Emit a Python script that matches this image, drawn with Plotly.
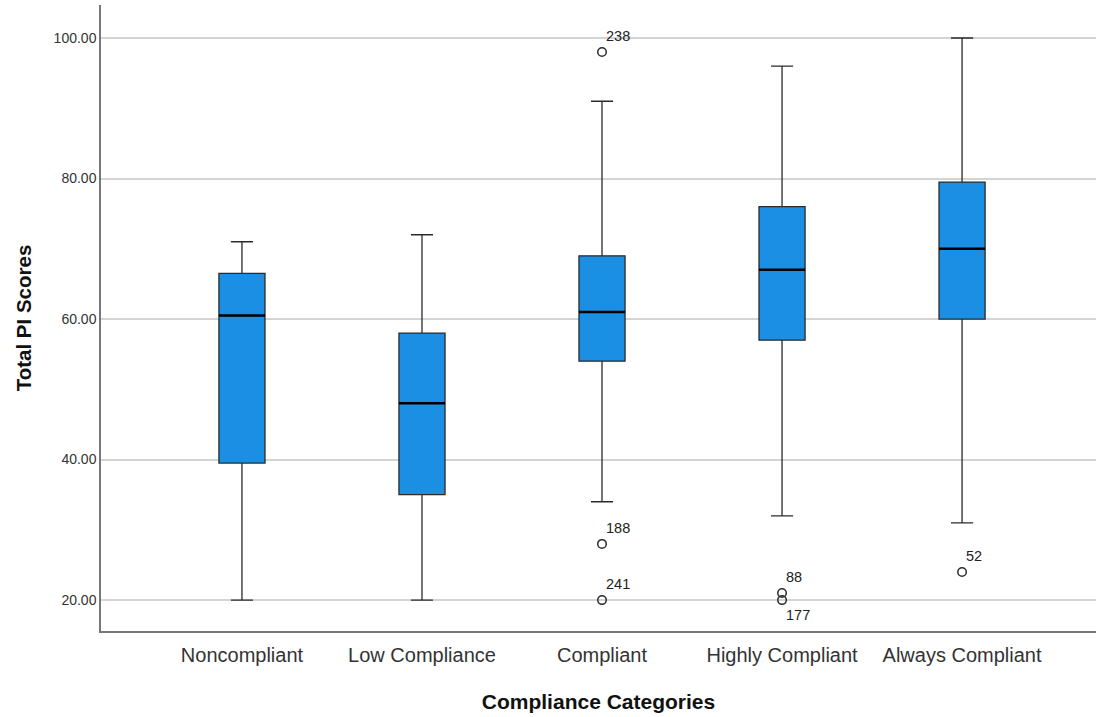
import plotly.graph_objects as go

categories = ["Noncompliant", "Low Compliance", "Compliant", "Highly Compliant", "Always Compliant"]
lower_whisker = [20, 20, 34, 32, 31]
q1_vals = [39.5, 35, 54, 57, 60]
median_vals = [60.5, 48, 61, 67, 70]
q3_vals = [66.5, 58, 69, 76, 79.5]
upper_whisker = [71, 72, 91, 96, 100]

outlier_cat = [2, 2, 2, 3, 3, 4]
outlier_val = [98, 28, 20, 21, 20, 24]
outlier_lbl = ["238", "188", "241", "88", "177", "52"]
outlier_above = [True, True, True, True, False, True]

BOX_W = 0.256
xs = list(range(len(categories)))
FONT = "Liberation Sans, Arial, sans-serif"

fig = go.Figure()
fig.add_trace(go.Box(
    x=xs, q1=q1_vals, median=median_vals, q3=q3_vals,
    lowerfence=lower_whisker, upperfence=upper_whisker,
    width=BOX_W, whiskerwidth=0.48,
    fillcolor="#1a8fe3",
    line=dict(color="#2b2b2b", width=1.3),
    boxpoints=False, showlegend=False, hoverinfo="skip",
))

# thicker median lines
mx, my = [], []
for i, m in zip(xs, median_vals):
    mx += [i - BOX_W / 2, i + BOX_W / 2, None]
    my += [m, m, None]
fig.add_trace(go.Scatter(x=mx, y=my, mode="lines",
                         line=dict(color="#000000", width=2.5),
                         showlegend=False, hoverinfo="skip"))

fig.add_trace(go.Scatter(
    x=outlier_cat, y=outlier_val, mode="markers",
    marker=dict(symbol="circle-open", size=8.5, color="#2b2b2b", line=dict(width=1.5)),
    showlegend=False, hoverinfo="skip",
))

for cx, v, lbl, above in zip(outlier_cat, outlier_val, outlier_lbl, outlier_above):
    fig.add_annotation(
        x=cx, y=v, text=lbl, showarrow=False,
        xanchor="left", yanchor="bottom" if above else "top",
        xshift=2, yshift=6 if above else -5,
        font=dict(family=FONT, size=14.5, color="#222222"),
    )

fig.update_layout(
    width=1096, height=717,
    margin=dict(l=101, r=0, t=5, b=86),
    paper_bgcolor="white", plot_bgcolor="white",
    font=dict(family=FONT, color="#222222"),
    xaxis=dict(
        range=[-0.783, 4.744], tickvals=xs, ticktext=categories,
        tickfont=dict(size=20, color="#333333"),
        showgrid=False, zeroline=False,
        showline=True, linecolor="#777777", linewidth=1.5,
        ticks="", ticklabelstandoff=5,
        title=dict(text="<b>Compliance Categories</b>", font=dict(size=21, color="#111111"), standoff=30),
    ),
    yaxis=dict(
        range=[15.6, 104.7], tickvals=[20, 40, 60, 80, 100], tickformat=".2f",
        tickfont=dict(size=14, color="#333333"),
        showgrid=True, gridcolor="#d4d4d4", gridwidth=1.5, zeroline=False,
        showline=True, linecolor="#777777", linewidth=1.5,
        ticks="",
        title=dict(text="<b>Total PI Scores</b>", font=dict(size=20.5, color="#111111"), standoff=16),
    ),
)

fig.write_html("out.html", config={"displayModeBar": False})
with open("out.html", "r", encoding="utf-8") as f:
    html = f.read()
html = html.replace("<head>", "<head><style>html,body{margin:0;padding:0;overflow:hidden}</style>", 1)
with open("out.html", "w", encoding="utf-8") as f:
    f.write(html)
